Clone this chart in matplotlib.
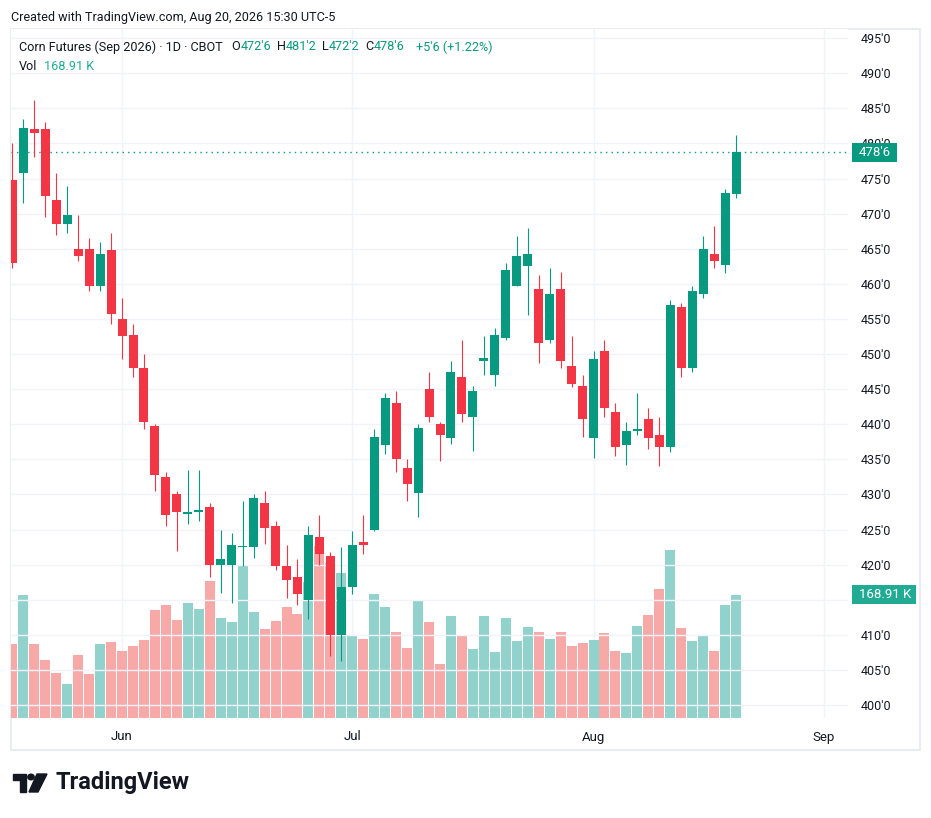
import matplotlib
matplotlib.use("Agg")
from matplotlib import pyplot as plt
from matplotlib.patches import Rectangle, Polygon, Circle
from matplotlib.ticker import FuncFormatter, FixedLocator

plt.rcParams['font.family'] = ['Roboto', 'DejaVu Sans']

# daily bars, May 15 .. Aug 20 2026 (cents per bushel)
opens = [474.75, 475.75, 482.0, 482.0, 472.0, 468.5, 465.0, 465.0, 459.75, 464.75,
         455.0, 452.75, 448.0, 439.75, 432.5, 430.0, 427.25, 427.5, 428.25, 420.0,
         420.0, 422.5, 422.5, 428.75, 425.5, 419.75, 418.25, 415.0, 424.0, 421.25,
         410.0, 416.75, 423.25, 425.0, 437.0, 443.0, 433.75, 430.25, 445.0, 440.0,
         438.0, 446.75, 441.0, 449.0, 447.0, 452.25, 459.75, 462.5, 459.25, 452.0,
         459.25, 448.25, 445.5, 438.0, 450.5, 441.75, 437.0, 439.0, 440.75, 438.5,
         436.75, 456.75, 448.0, 458.5, 464.25, 462.75, 472.75]
highs = [480.0, 483.5, 486.25, 483.0, 475.75, 474.0, 469.75, 466.5, 466.0, 467.25,
         458.0, 454.25, 450.0, 440.0, 433.25, 430.5, 433.5, 433.5, 428.75, 425.0,
         424.5, 429.0, 430.0, 430.5, 426.25, 422.75, 420.75, 425.5, 427.0, 421.75,
         422.5, 424.75, 427.0, 439.25, 444.5, 444.75, 435.0, 440.0, 447.5, 440.25,
         449.0, 452.0, 445.5, 452.5, 453.75, 463.0, 466.75, 468.0, 461.25, 462.25,
         461.75, 452.5, 447.0, 450.5, 452.0, 443.0, 440.25, 444.5, 442.25, 441.0,
         457.75, 457.25, 459.75, 466.75, 468.25, 473.5, 481.25]
lows = [462.25, 471.5, 478.0, 469.5, 467.0, 467.25, 463.25, 459.0, 459.0, 454.25,
        449.25, 446.75, 439.25, 430.5, 425.5, 422.0, 425.75, 426.25, 418.25, 416.0,
        414.5, 419.75, 421.0, 423.0, 419.25, 415.25, 414.25, 412.25, 420.0, 407.0,
        406.25, 415.75, 421.5, 424.75, 435.75, 433.25, 429.0, 426.75, 440.25, 434.75,
        437.25, 440.25, 436.25, 447.0, 445.5, 452.0, 459.75, 455.5, 448.75, 451.5,
        448.0, 445.25, 438.25, 435.25, 441.0, 435.5, 434.25, 438.5, 436.5, 434.0,
        436.0, 446.75, 447.5, 458.0, 462.25, 461.5, 472.25]
closes = [463.0, 482.25, 481.5, 472.5, 468.5, 469.75, 464.0, 459.75, 464.25, 455.75,
          452.5, 448.0, 440.25, 432.75, 427.0, 427.5, 427.5, 427.75, 420.0, 420.75,
          422.75, 422.6, 429.5, 425.25, 419.75, 417.75, 415.75, 424.25, 421.5, 410.0,
          416.75, 422.75, 422.75, 438.25, 443.75, 435.0, 431.5, 439.5, 441.0, 438.5,
          447.5, 441.5, 444.75, 449.5, 452.75, 462.0, 464.0, 464.25, 451.5, 458.5,
          449.0, 445.75, 440.75, 449.25, 442.25, 436.75, 439.0, 439.25, 438.0, 436.75,
          457.0, 448.0, 459.0, 465.0, 463.25, 473.0, 478.75]
volumes_k = [101.6, 168.9, 101.6, 79.6, 61.8, 46.7, 86.5, 60.4, 101.6, 104.3,
             92.0, 98.9, 107.1, 148.3, 155.1, 134.6, 157.9, 149.7, 188.1, 137.3,
             131.8, 210.1, 145.5, 122.2, 133.2, 152.4, 142.8, 186.7, 236.2, 212.8,
             199.1, 112.6, 108.5, 170.3, 152.4, 118.1, 96.1, 160.6, 131.8, 74.1,
             140.0, 112.6, 94.7, 140.0, 90.6, 137.3, 105.7, 124.9, 118.1, 108.5,
             118.1, 98.9, 103.0, 107.1, 116.7, 92.0, 89.2, 126.3, 141.4, 177.1,
             230.7, 123.6, 105.7, 112.6, 92.0, 155.1, 168.91]

month_bars = [10, 31, 53, 74]
month_labels = ["Jun", "Jul", "Aug", "Sep"]
price_ticks = list(range(400, 500, 5))
hidden_price_labels = [415]          # covered by the volume tag
change_text = "+5'6 (+1.22%)"

UP = '#089981'
DOWN = '#F23645'
UP_VOL = '#92D2CC'
DOWN_VOL = '#F7A9A7'
VOL_TAG = '#22AB94'
TEXT = '#131722'
GRID = '#F0F3FA'

W, H = 931, 818


def fx(px):
    return px / W


def fy(py):
    return 1 - py / H


def fmt_price(v, pos=None):
    """cents with eighths, like 478'6"""
    whole = int(v)
    eighth = int(round((v - whole) * 8))
    return f"{whole}'{eighth}"


def axis_label(v, pos=None):
    if round(v) in hidden_price_labels:
        return ""
    return fmt_price(v)


def tag(fig, ax, yval, label, x0, x1, color):
    """coloured value box on the right scale"""
    _, ypix = ax.transData.transform((0, yval))
    h = 19
    fig.add_artist(Rectangle((x0 / W, (ypix - h / 2) / H), (x1 - x0) / W, h / H,
                             transform=fig.transFigure, facecolor=color,
                             edgecolor='none', zorder=10))
    fig.text((x0 + 7) / W, ypix / H, label, ha='left', va='center',
             color='white', fontsize=9.5, zorder=11)


def main():
    fig = plt.figure(figsize=(W / 100, H / 100), dpi=100)
    fig.patch.set_facecolor('white')

    # outer frame of the chart
    fig.add_artist(Rectangle((fx(11), fy(750)), fx(920) - fx(11), fy(29) - fy(750),
                             transform=fig.transFigure, fill=False,
                             edgecolor='#E9ECF1', linewidth=1.5))

    ax_vol = fig.add_axes([fx(11), fy(718), fx(848) - fx(11), fy(29) - fy(718)])
    ax = ax_vol.twinx()
    ax_vol.set_zorder(1)
    ax.set_zorder(2)
    ax.patch.set_visible(False)

    n = len(closes)
    idx = list(range(n))
    ups = [c >= o for o, c in zip(opens, closes)]

    # volume
    ax_vol.bar(idx, [v * 1000 for v in volumes_k], width=0.91,
               color=[UP_VOL if u else DOWN_VOL for u in ups], linewidth=0)
    ax_vol.set_ylim(0, 946000)
    ax_vol.set_yticks([])
    ax_vol.set_xlim(-0.128, 76.21)
    ax_vol.xaxis.set_major_locator(FixedLocator(month_bars))
    ax_vol.set_xticklabels(month_labels)
    ax_vol.tick_params(axis='x', length=0, pad=9, labelsize=9.5, labelcolor=TEXT)
    ax_vol.grid(axis='x', color=GRID, linewidth=1)
    ax_vol.set_axisbelow(True)

    # candles
    colors = [UP if u else DOWN for u in ups]
    ax.vlines(idx, lows, highs, colors=colors, linewidth=0.8, zorder=3)
    bottoms = [min(o, c) for o, c in zip(opens, closes)]
    heights = [max(abs(c - o), 0.15) for o, c in zip(opens, closes)]
    ax.bar(idx, heights, bottom=bottoms, width=0.82, color=colors,
           linewidth=0, zorder=4)

    ax.set_ylim(398.15, 496.3)
    ax.yaxis.set_major_locator(FixedLocator(price_ticks))
    ax.yaxis.set_major_formatter(FuncFormatter(axis_label))
    ax.tick_params(axis='y', length=0, pad=9, labelsize=9, labelcolor=TEXT)
    ax.grid(axis='y', color=GRID, linewidth=1)
    ax.set_axisbelow(True)
    for a in (ax, ax_vol):
        for s in a.spines.values():
            s.set_visible(False)

    # last price line and value boxes
    last = closes[-1]
    ax.axhline(last, color=UP, linewidth=1, linestyle=(0, (1, 3)), zorder=2)
    tag(fig, ax, last, fmt_price(last), 852, 897, UP)
    tag(fig, ax_vol, volumes_k[-1] * 1000, f"{volumes_k[-1]:.2f} K", 852, 916, VOL_TAG)

    # header
    fs = 9.1
    fig.text(fx(11), fy(17), "Created with TradingView.com, Aug 20, 2026 15:30 UTC-5",
             ha='left', va='center', fontsize=fs, color=TEXT)
    renderer = fig.canvas.get_renderer()
    pieces = [("Corn Futures (Sep 2026) · 1D · CBOT", TEXT, 9),
              ("O", TEXT, 0.5), (fmt_price(opens[-1]), UP, 5),
              ("H", TEXT, 0.5), (fmt_price(highs[-1]), UP, 5),
              ("L", TEXT, 0.5), (fmt_price(lows[-1]), UP, 5),
              ("C", TEXT, 0.5), (fmt_price(last), UP, 12),
              (change_text, UP, 0)]
    xpix = 19
    for s, col, gap in pieces:
        t = fig.text(xpix / W, fy(47), s, ha='left', va='center', fontsize=fs, color=col)
        xpix = t.get_window_extent(renderer).x1 + gap
    t = fig.text(fx(19), fy(66), "Vol", ha='left', va='center', fontsize=fs, color=TEXT)
    xv = t.get_window_extent(renderer).x1 + 7
    fig.text(xv / W, fy(66), f"{volumes_k[-1]:.2f} K", ha='left', va='center',
             fontsize=fs, color=VOL_TAG)

    # TradingView logo
    logo = '#131722'
    fig.add_artist(Polygon([(fx(13), fy(774)), (fx(26), fy(774)), (fx(26), fy(792)),
                            (fx(20), fy(792)), (fx(20), fy(780)), (fx(13), fy(780))],
                           closed=True, transform=fig.transFigure, color=logo))
    fig.add_artist(Circle((fx(31), fy(777)), 3.2 / W, transform=fig.transFigure,
                          color=logo))
    fig.add_artist(Polygon([(fx(37), fy(774)), (fx(47), fy(774)), (fx(38), fy(792)),
                            (fx(29), fy(792))],
                           closed=True, transform=fig.transFigure, color=logo))
    fig.text(fx(56), fy(783), "TradingView", ha='left', va='center',
             fontsize=17, fontweight='bold', color=logo)

    fig.savefig("out.png", dpi=100, facecolor='white')


if __name__ == '__main__':
    main()
